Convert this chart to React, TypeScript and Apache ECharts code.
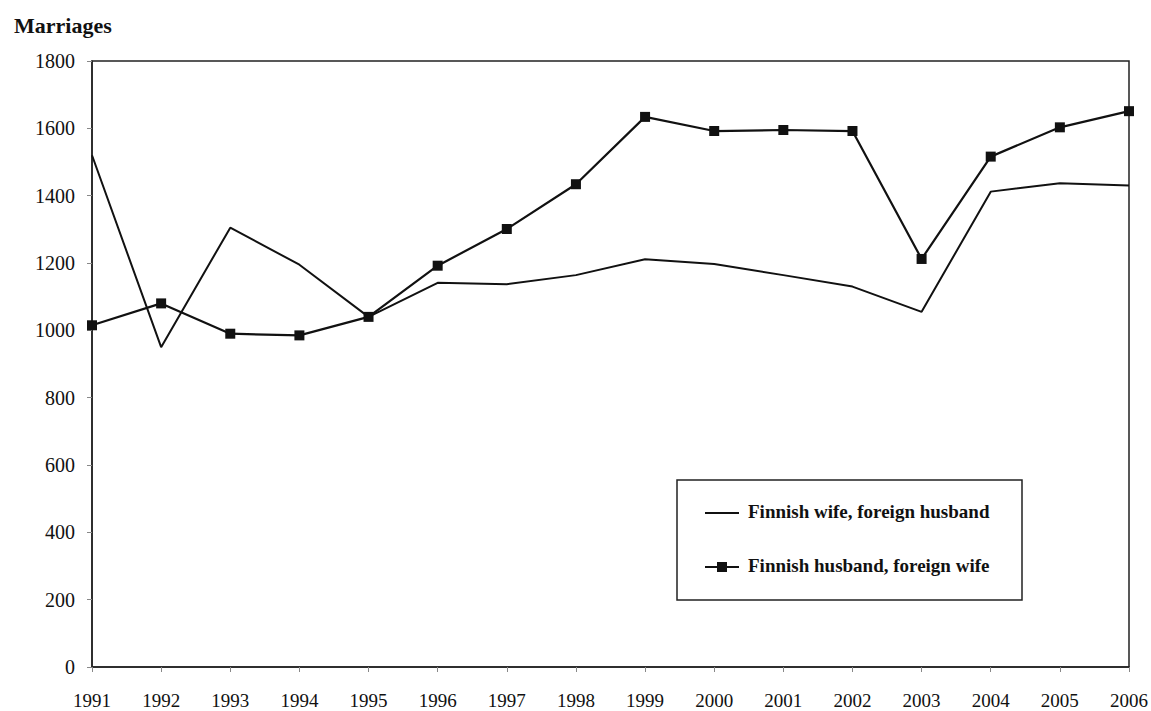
import React, { useEffect, useRef } from "react";
import * as echarts from "echarts";

const years = ["1991","1992","1993","1994","1995","1996","1997","1998","1999","2000","2001","2002","2003","2004","2005","2006"];
const wifeForeignHusband = [1520, 950, 1305, 1195, 1040, 1141, 1137, 1164, 1211, 1197, 1164, 1130, 1055, 1412, 1437, 1430];
const husbandForeignWife = [1015, 1080, 990, 985, 1040, 1192, 1301, 1434, 1634, 1592, 1595, 1592, 1212, 1516, 1603, 1651];
const seriesNames = ["Finnish wife, foreign husband", "Finnish husband, foreign wife"];
const yAxisTitle = "Marriages";

export default function App() {
  const ref = useRef<HTMLDivElement>(null);
  useEffect(() => {
    if (!ref.current) return;
    const chart = echarts.init(ref.current, null, { renderer: "svg" });
    const font = "'Liberation Serif', 'Times New Roman', serif";
    const legendText = (y: number, text: string) => ({
      type: "text",
      left: 748,
      top: y - 11,
      style: { text, font: `bold 19px ${font}`, fill: "#111" },
      z: 10,
    });
    chart.setOption({
      animation: false,
      backgroundColor: "#ffffff",
      textStyle: { fontFamily: font },
      title: {
        text: yAxisTitle,
        left: 9,
        top: 9,
        textStyle: { fontFamily: font, fontWeight: "bold", fontSize: 22, color: "#111" },
      },
      grid: {
        left: 92,
        right: 20,
        top: 61,
        bottom: 44,
        show: true,
        borderColor: "#222",
        borderWidth: 1.5,
        backgroundColor: "transparent",
      },
      graphic: [
        {
          type: "rect",
          shape: { x: 677, y: 480, width: 345, height: 120 },
          style: { fill: "#fff", stroke: "#222", lineWidth: 1.5 },
          z: 9,
        },
        {
          type: "line",
          shape: { x1: 705, y1: 513, x2: 739, y2: 513 },
          style: { stroke: "#111", lineWidth: 2 },
          z: 10,
        },
        legendText(513, seriesNames[0]),
        {
          type: "line",
          shape: { x1: 705, y1: 567, x2: 739, y2: 567 },
          style: { stroke: "#111", lineWidth: 2.2 },
          z: 10,
        },
        {
          type: "rect",
          shape: { x: 717, y: 562, width: 10, height: 10 },
          style: { fill: "#111" },
          z: 10,
        },
        legendText(567, seriesNames[1]),
      ],
      xAxis: {
        type: "category",
        data: years,
        boundaryGap: false,
        axisLine: { show: true, lineStyle: { color: "#222", width: 1.5 } },
        axisTick: { show: true, inside: false, length: 5, alignWithLabel: true, lineStyle: { color: "#888" } },
        axisLabel: { margin: 24, fontSize: 19, color: "#111", fontFamily: font },
        splitLine: { show: false },
      },
      yAxis: {
        type: "value",
        min: 0,
        max: 1800,
        interval: 200,
        axisLine: { show: true, lineStyle: { color: "#222", width: 1.5 } },
        axisTick: { show: true, length: 5, lineStyle: { color: "#888" } },
        axisLabel: {
          margin: 17,
          fontSize: 20,
          color: "#111",
          fontFamily: font,
          formatter: (v: number) => String(v),
        },
        splitLine: { show: false },
      },
      series: [
        {
          name: seriesNames[0],
          type: "line",
          data: wifeForeignHusband,
          symbol: "none",
          lineStyle: { color: "#111", width: 2 },
          itemStyle: { color: "#111" },
        },
        {
          name: seriesNames[1],
          type: "line",
          data: husbandForeignWife,
          symbol: "rect",
          symbolSize: 10,
          lineStyle: { color: "#111", width: 2.2 },
          itemStyle: { color: "#111" },
        },
      ],
    });
    return () => chart.dispose();
  }, []);
  return (
    <div
      ref={ref}
      style={{ position: "fixed", left: 0, top: 0, width: 1151, height: 711, background: "#fff" }}
    />
  );
}
